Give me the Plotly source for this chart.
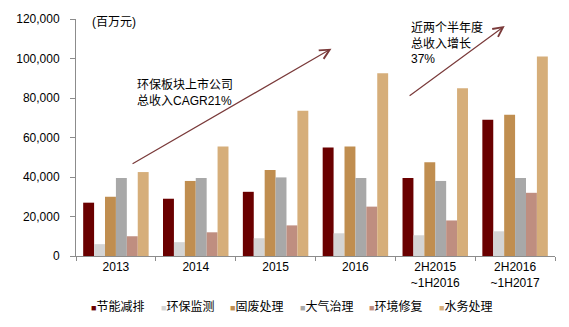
import plotly.graph_objects as go

categories = ["2013", "2014", "2015", "2016", "2H2015<br>~1H2016", "2H2016<br>~1H2017"]
series_names = ["节能减排", "环保监测", "固废处理", "大气治理", "环境修复", "水务处理"]
jieneng = [27000, 29000, 32500, 55000, 39500, 69000]
jiance = [6000, 7000, 9000, 11500, 10500, 12500]
gufei = [30000, 38000, 43500, 55500, 47500, 71500]
daqi = [39500, 39500, 39800, 39500, 38000, 39500]
xiufu = [10000, 12000, 15500, 25000, 18000, 32000]
shuiwu = [42500, 55500, 73500, 92500, 85000, 101000]
series_values = [jieneng, jiance, gufei, daqi, xiufu, shuiwu]
colors = ["#6A0000", "#D4D4D4", "#C08E50", "#A8A8A8", "#BF8E80", "#D6AE7A"]

FONT = "Liberation Sans, Noto Sans CJK SC, sans-serif"

# plot area in pixels (used to place the hand-built legend row)
W, H = 569, 327
ML, MR, MT, MB = 76, 14, 14, 71
PW, PH = W - ML - MR, H - MT - MB

fig = go.Figure()
for name, vals, col in zip(series_names, series_values, colors):
    fig.add_trace(go.Bar(x=categories, y=vals, name=name, marker_color=col,
                         marker_line_width=0, showlegend=False))

arrow_style = dict(showarrow=True, arrowhead=5, arrowsize=1.6, arrowwidth=1.2,
                   arrowcolor="#7A3A3A", axref="x", ayref="y", xref="x", yref="y",
                   text="")
annotations = [
    dict(x=2.7, y=105000, ax=0.19, ay=46300, **arrow_style),
    dict(x=4.87, y=116500, ax=3.66, ay=80600, **arrow_style),
    dict(x=0.24, y=83000, xref="x", yref="y", xanchor="left", yanchor="middle",
         text="环保板块上市公司<br>总收入CAGR21%", showarrow=False, align="left",
         font=dict(size=12, color="#000")),
    dict(x=3.67, y=108000, xref="x", yref="y", xanchor="left", yanchor="middle",
         text="近两个半年度<br>总收入增长<br>37%", showarrow=False, align="left",
         font=dict(size=12, color="#000")),
    dict(x=(90 - ML) / PW, y=118500, xref="paper", yref="y", xanchor="left",
         yanchor="middle", text="(百万元)", showarrow=False,
         font=dict(size=12, color="#000")),
]

# legend row: colored square swatch followed by the series name
legend_x0, legend_step, legend_y = 89, 69.5, 308
for i, (name, col) in enumerate(zip(series_names, colors)):
    px = legend_x0 + i * legend_step
    annotations.append(dict(
        x=(px - ML) / PW, y=(H - MB - legend_y) / PH, xref="paper", yref="paper",
        xanchor="left", yanchor="middle", showarrow=False,
        text=f"<span style='color:{col};font-size:9px'>■</span>{name}",
        font=dict(size=12, color="#000"),
    ))

fig.update_layout(
    width=W, height=H,
    margin=dict(l=ML, r=MR, t=MT, b=MB),
    paper_bgcolor="white", plot_bgcolor="white",
    barmode="group", bargap=0.18, bargroupgap=0,
    font=dict(family=FONT, size=12, color="#000"),
    showlegend=False,
    annotations=annotations,
)
fig.update_xaxes(showline=True, linecolor="#8C8C8C", linewidth=1,
                 ticks="outside", tickson="boundaries", ticklen=4, tickcolor="#8C8C8C",
                 tickfont=dict(size=12), showgrid=False)
fig.update_yaxes(range=[0, 120000], dtick=20000, tickformat=",d", showline=True,
                 linecolor="#8C8C8C", linewidth=1, ticks="outside", ticklen=5,
                 tickcolor="#8C8C8C", showgrid=False, zeroline=False,
                 tickfont=dict(size=12), ticklabelstandoff=8)

fig.write_html("out.html")
